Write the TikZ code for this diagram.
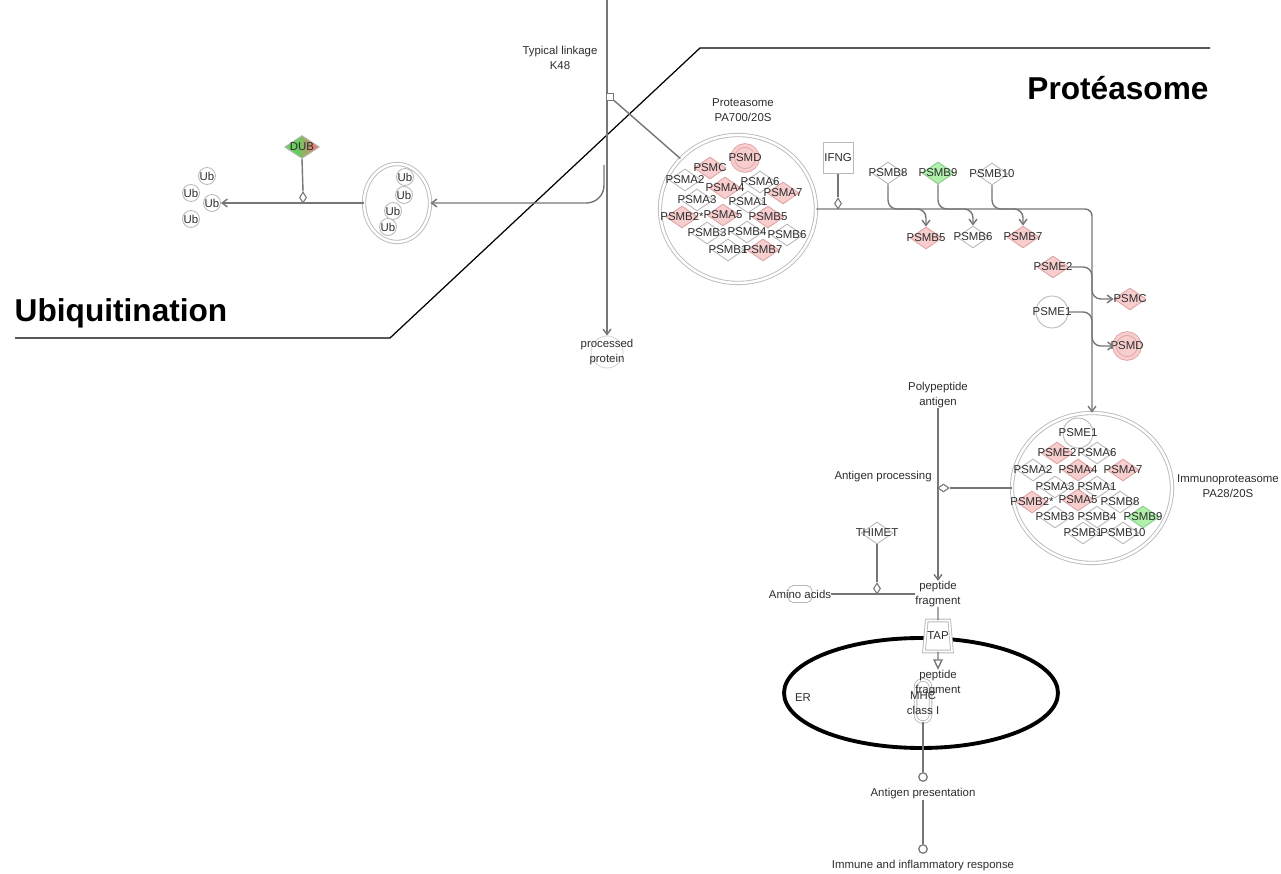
\documentclass[tikz,border=0pt]{standalone}
\usepackage{fontspec}
\setmainfont{Liberation Sans}
\usetikzlibrary{shapes.geometric,arrows.meta}
\definecolor{ln}{RGB}{118,118,118}
\definecolor{bd}{RGB}{185,185,185}
\definecolor{pk}{RGB}{247,205,205}
\definecolor{pkd}{RGB}{222,165,165}
\definecolor{gn}{RGB}{175,240,170}
\definecolor{gnd}{RGB}{140,200,140}
\definecolor{dubg}{RGB}{105,205,95}
\definecolor{dubr}{RGB}{220,130,115}
\definecolor{txt}{RGB}{45,45,45}
\pgfdeclarehorizontalshading{dubsh}{100bp}{color(0bp)=(dubg); color(44bp)=(dubg); color(66bp)=(dubr); color(100bp)=(dubr)}
\tikzset{
  lbl/.style={font=\fontsize{6.5}{8.5}\selectfont, text=txt, align=center, inner sep=0pt},
  big/.style={font=\fontsize{18}{20}\selectfont\bfseries, text=black, inner sep=0pt},
  conn/.style={draw=ln, line width=0.8pt},
  arr/.style={conn, -{Straight Barb[length=3pt,width=4.5pt]}},
  gene/.style={diamond, draw=bd, fill=white, line width=0.5pt, inner sep=0pt, minimum width=0.64cm, minimum height=0.44cm},
  genepk/.style={gene, draw=pkd, fill=pk},
  genegn/.style={gene, draw=gnd, fill=gn},
  cplx/.style={ellipse, draw=bd, fill=white, line width=0.5pt, double=white, double distance=1.4pt},
  ub/.style={lbl, circle, draw=bd, fill=white, line width=0.5pt, minimum size=0.34cm},
  dcirc/.style={circle, draw=pkd, fill=pk, line width=0.5pt, double=pk, double distance=1.6pt, minimum size=0.5cm},
  mod/.style={diamond, draw=ln, fill=white, line width=0.6pt, inner sep=0pt, minimum width=0.14cm, minimum height=0.22cm},
  modh/.style={mod, minimum width=0.22cm, minimum height=0.16cm},
  endc/.style={circle, draw=ln, fill=white, line width=0.7pt, inner sep=0pt, minimum size=0.17cm},
}
\def\protlist{PSMC/710/168/genepk/PSMC, PSMA2/685/180/gene/PSMA2, PSMA4/725/188/genepk/PSMA4, PSMA6/760/182/gene/PSMA6, PSMA7/783/193/genepk/PSMA7, PSMA3/697/200/gene/PSMA3, PSMA1/748/202/gene/PSMA1, PSMB2/682/217/genepk/PSMB2*, PSMA5/723/215/genepk/PSMA5, PSMB5/768/217/genepk/PSMB5, PSMB3/707/233/gene/PSMB3, PSMB4/747/232/gene/PSMB4, PSMB6/787/235/gene/PSMB6, PSMB1/728/250/gene/PSMB1, PSMB7/763/250/genepk/PSMB7}
\def\immulist{PSME2/1057/453/genepk/PSME2, PSMA6/1097/453/gene/PSMA6, PSMA2/1033/470/gene/PSMA2, PSMA4/1078/470/genepk/PSMA4, PSMA7/1123/470/genepk/PSMA7, PSMA3/1055/487/gene/PSMA3, PSMA1/1097/487/gene/PSMA1, PSMB2/1032/502/genepk/PSMB2*, PSMA5/1078/500/genepk/PSMA5, PSMB8/1120/502/gene/PSMB8, PSMB3/1055/517/gene/PSMB3, PSMB4/1097/517/gene/PSMB4, PSMB9/1143/517/genegn/PSMB9, PSMB1/1083/533/gene/PSMB1, PSMB10/1123/533/gene/PSMB10}
\begin{document}
\begin{tikzpicture}[x=0.02cm, y=-0.02cm]
\useasboundingbox (0,0) rectangle (1281,874);

% region border and titles
\draw [black, line width=0.7pt] (15,338) -- (390,338) -- (700,48) -- (1210,48);
\node [big] (ubiq) at (121,313) {Ubiquitination};
\node [big] (prtsm) at (1118,88) {Protéasome};

% ubiquitin side
\node [cplx, minimum width=1.32cm, minimum height=1.56cm] (ubc) at (397,203) {};
\foreach \n/\x/\y in {1/405/177, 2/404/195, 3/393/211, 4/388/227}
  \node [ub] (ubc\n) at (\x,\y) {Ub};
\foreach \n/\x/\y in {1/207/176, 2/191/193, 3/212/203, 4/191/219}
  \node [ub] (ub\n) at (\x,\y) {Ub};
\node [diamond, draw=bd, line width=0.5pt, shading=dubsh, inner sep=0pt, minimum width=0.7cm, minimum height=0.46cm] (dub) at (302,147) {};
\node [lbl] (tdub) at (dub) {DUB};
\node [mod] (dubm) at (303,197.5) {};
\draw [conn] (dub.south) -- (dubm.north);
\draw [arr] (ubc.west) -- (ub3.east);

% linkage column
\coordinate (top) at (607,0);
\coordinate (split) at (604,165);
\node [circle, draw=bd!60, line width=0.5pt, minimum size=0.64cm] (pp) at (607,352) {};
\node [lbl] (tpp) at (pp) {processed\\protein};
\draw [arr] (top) -- (pp.north);
\draw [arr, rounded corners=10pt] (split) -- (split |- ubc.east) -- (ubc.east);
\node [rectangle, draw=ln, fill=white, line width=0.6pt, inner sep=0pt, minimum size=0.14cm] (k48) at (610,97) {};
\node [lbl] (tk48) at (560,58) {Typical linkage\\K48};

% proteasome PA700/20S
\node [cplx, minimum width=3.12cm, minimum height=2.96cm] (prot) at (738,209) {};
\node [lbl] (tprot) at (743,110) {Proteasome\\PA700/20S};
\draw [conn] (k48) -- (prot);
\node [dcirc] (aPSMD) at (745,158) {};
\foreach \n/\x/\y/\s/\t in \protlist
  \node [\s] (a\n) at (\x,\y) {};
\node [lbl] (taPSMD) at (aPSMD) {PSMD};
\foreach \n/\x/\y/\s/\t in \protlist
  \node [lbl] (ta\n) at (a\n) {\t};

% IFNG and PSMB8/9/10 switch
\node [lbl, rectangle, draw=bd, fill=white, line width=0.5pt, minimum width=0.6cm, minimum height=0.62cm] (ifng) at (838,158) {IFNG};
\node [mod] (ifm) at (838,203.5) {};
\draw [conn] (ifng) -- (ifm);
\node [gene] (b8) at (888,173) {};
\node [genegn] (b9) at (938,173) {};
\node [gene] (b10) at (992,174) {};
\node [genepk] (b5) at (926,238) {};
\node [gene] (b6) at (973,237) {};
\node [genepk] (b7) at (1023,237) {};
\node [lbl] (tb8) at (b8) {PSMB8};
\node [lbl] (tb9) at (b9) {PSMB9};
\node [lbl] (tb10) at (b10) {PSMB10};
\node [lbl] (tb5) at (b5) {PSMB5};
\node [lbl] (tb6) at (b6) {PSMB6};
\node [lbl] (tb7) at (b7) {PSMB7};

% immunoproteasome PA28/20S
\node [cplx, minimum width=3.2cm, minimum height=3.0cm] (immu) at (1092,488) {};
\node [lbl] (timmu) at (1228,486) {Immunoproteasome\\PA28/20S};
\node [circle, draw=bd, fill=white, line width=0.5pt, minimum size=0.6cm] (iPSME1) at (1078,433) {};
\foreach \n/\x/\y/\s/\t in \immulist
  \node [\s] (i\n) at (\x,\y) {};
\node [lbl] (tiPSME1) at (iPSME1) {PSME1};
\foreach \n/\x/\y/\s/\t in \immulist
  \node [lbl] (ti\n) at (i\n) {\t};

\draw [arr, rounded corners=4pt] (prot.east) -| (immu.north);
\draw [arr, rounded corners=5pt] (b8.south) -- (b8.south |- prot.east) -| (b5.north);
\draw [arr, rounded corners=5pt] (b9.south) -- (b9.south |- prot.east) -| (b6.north);
\draw [arr, rounded corners=5pt] (b10.south) -- (b10.south |- prot.east) -| (b7.north);

% PA28 subunits
\node [genepk] (e2) at (1053,267) {};
\node [circle, draw=bd, fill=white, line width=0.5pt, minimum size=0.64cm] (e1) at (1052,312) {};
\node [genepk] (psmc) at (1130,299) {};
\node [dcirc] (psmd) at (1127,346) {};
\node [lbl] (te2) at (e2) {PSME2};
\node [lbl] (te1) at (e1) {PSME1};
\node [lbl] (tpsmc) at (psmc) {PSMC};
\node [lbl] (tpsmd) at (psmd) {PSMD};
\draw [arr, rounded corners=5pt] (e2.east) -- (e2.east -| immu.north) |- (psmc.west);
\draw [arr, rounded corners=5pt] (e1.east) -- (e1.east -| immu.north) |- (psmd.west);

% antigen processing
\node [lbl] (poly) at (938,395) {Polypeptide\\antigen};
\node [lbl] (pf1) at (938,594) {peptide\\fragment};
\draw [arr] (poly) -- (pf1);
\node [lbl, anchor=east] (agp) at (932,477) {Antigen processing};
\node [modh] (agm) at (943.5,488) {};
\draw [conn] (immu.west) -- (agm.east);
\node [gene] (thimet) at (877,533) {};
\node [lbl] (tthimet) at (thimet) {THIMET};
\node [mod] (thm) at (877,588.5) {};
\draw [conn] (thimet.south) -- (thm.north);
\node [rectangle, rounded corners=3pt, draw=bd, line width=0.5pt, minimum width=0.48cm, minimum height=0.34cm] (aa) at (800,594) {};
\node [lbl] (taa) at (aa) {Amino acids};
\draw [conn] (taa.east) -- (pf1.west);

% ER, TAP and MHC
\node [ellipse, draw=black, line width=2.2pt, minimum width=5.48cm, minimum height=2.2cm] (er) at (921,693) {};
\node [lbl] (ter) at (803,698) {ER};
\node [lbl, trapezium, trapezium angle=72, trapezium stretches=true, draw=bd, fill=white, line width=0.5pt, double=white, double distance=1pt, minimum width=0.56cm, minimum height=0.62cm] (tap) at (938,636) {TAP};
\draw [conn] (pf1.south) -- (tap.north);
\node [rectangle, rounded corners=4pt, draw=bd, line width=0.5pt, double=white, double distance=1pt, minimum width=0.3cm, minimum height=0.84cm] (mhc) at (923,701) {};
\node [lbl] (tmhc) at (923,703) {MHC\\class I};
\node [lbl] (pf2) at (938,683) {peptide\\fragment};
\draw [conn, -{Triangle[open, length=6pt, width=5.5pt]}] (tap.south) -- (pf2.north);

% presentation
\node [endc] (ap0) at (923,777) {};
\draw [conn] (mhc.south) -- (ap0);
\node [lbl] (apt) at (923,794) {Antigen presentation};
\node [endc] (ir0) at (923,849) {};
\draw [conn] (apt.south) -- (ir0);
\node [lbl] (irt) at (923,866) {Immune and inflammatory response};
\end{tikzpicture}
\end{document}
